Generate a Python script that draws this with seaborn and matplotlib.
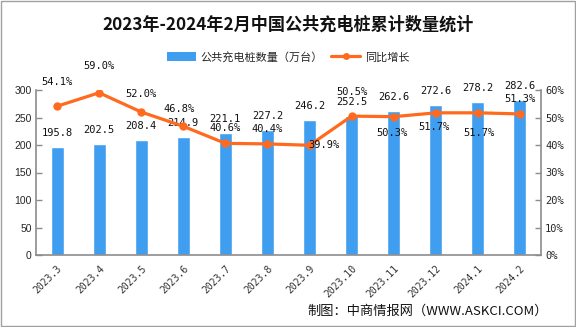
import numpy as np
import pandas as pd
import matplotlib
matplotlib.use("Agg")
import matplotlib.pyplot as plt
import seaborn as sns
from matplotlib.ticker import FuncFormatter
from matplotlib.lines import Line2D
from matplotlib.patches import Patch, Rectangle

months = ["2023.3", "2023.4", "2023.5", "2023.6", "2023.7", "2023.8",
          "2023.9", "2023.10", "2023.11", "2023.12", "2024.1", "2024.2"]
piles = [195.8, 202.5, 208.4, 214.9, 221.1, 227.2, 246.2, 252.5, 262.6, 272.6, 278.2, 282.6]
growth = [54.1, 59.0, 52.0, 46.8, 40.6, 40.4, 39.9, 50.5, 50.3, 51.7, 51.7, 51.3]

# label offsets (pixels) for growth labels
g_dx = [0, 0, 0, -4, 0, 0, 14, 0, -2, -2, 1, 0]
g_dy = [24, 27, 18, 17, 15, 15, 0, 24, -16, -14, -20, 15]

sns.set_theme(style="white")
plt.rcParams['font.family'] = ['Noto Sans CJK SC', 'DejaVu Sans']

BLUE = "#409EF0"
ORANGE = "#FF6A1F"
GRAY = "#8C8C8C"

fig = plt.figure(figsize=(5.76, 3.27), dpi=100)
ax = fig.add_axes([36/576, 1-255/327, (541-36)/576, (255-90)/327])

df = pd.DataFrame({"month": months, "piles": piles, "growth": growth})
sns.barplot(data=df, x="month", y="piles", ax=ax, color=BLUE, width=0.31,
            saturation=1, order=months)
ax.set_xlim(-0.5, len(months) - 0.5)
ax.set_ylim(0, 300)
ax.set_yticks(range(0, 301, 50))
ax.set_xlabel("")
ax.set_ylabel("")

for p, v in zip(ax.patches, piles):
    ax.annotate(f"{v:.1f}", (p.get_x() + p.get_width()/2, p.get_height()),
                xytext=(0, 14), textcoords="offset pixels", ha="center", va="center",
                fontsize=7.5, family="DejaVu Sans Mono", color="#111111")

ax2 = ax.twinx()
pos = np.arange(len(months))
sns.lineplot(x=pos, y=growth, ax=ax2, color=ORANGE, linewidth=2.3,
             marker="o", markersize=6, markeredgewidth=0, legend=False)
ax2.set_ylim(0, 60)
ax2.set_yticks(range(0, 61, 10))
ax2.yaxis.set_major_formatter(FuncFormatter(lambda v, _: f"{v:.0f}%"))
ax2.set_ylabel("")

for x, v, dx, dy in zip(pos, growth, g_dx, g_dy):
    ax2.annotate(f"{v:.1f}%", (x, v), xytext=(dx, dy), textcoords="offset pixels",
                 ha="center", va="center", fontsize=7.5, family="DejaVu Sans Mono",
                 color="#111111")

# axes styling
for a in (ax, ax2):
    for s in a.spines.values():
        s.set_visible(False)
ax.spines["left"].set_visible(True)
ax.spines["bottom"].set_visible(True)
ax2.spines["right"].set_visible(True)
for s in (ax.spines["left"], ax.spines["bottom"], ax2.spines["right"]):
    s.set_color(GRAY)
    s.set_linewidth(1.2)

ax.set_xticks(np.arange(len(months)))
ax.set_xticklabels(months, rotation=45, ha="right", rotation_mode="anchor",
                   fontsize=7, family="DejaVu Sans Mono", color="#333333")
ax.tick_params(axis="x", length=0, pad=6)
ax.set_xticks(np.arange(len(months)) + 0.5, minor=True)
ax.tick_params(axis="x", which="minor", direction="in", length=4, color=GRAY, width=1)
ax.tick_params(axis="y", direction="in", length=4, color=GRAY, width=1, pad=3,
               labelsize=7.5, left=True)
for t in ax.get_yticklabels():
    t.set_family("Liberation Sans")
ax2.tick_params(axis="y", direction="in", length=4, color=GRAY, width=1, pad=3,
                labelsize=7.5, right=True)
for t in ax2.get_yticklabels():
    t.set_family("DejaVu Sans Mono")

fig.text(0.5, 0.924, "2023年-2024年2月中国公共充电桩累计数量统计", ha="center", va="center",
         fontsize=12.3, fontweight="bold", color="#111111")

handles = [Patch(facecolor=BLUE, edgecolor="none"),
           Line2D([0], [0], color=ORANGE, lw=2.3, marker="o", markersize=5, markeredgewidth=0)]
fig.legend(handles, ["公共充电桩数量（万台）", "同比增长"], loc="center",
           bbox_to_anchor=(0.5, 0.826), ncol=2, frameon=False, fontsize=8,
           handlelength=2.6, handleheight=0.8, columnspacing=0.8, handletextpad=0.4)

fig.text(0.951, 0.049, "制图：中商情报网（WWW.ASKCI.COM）", ha="right", va="center",
         fontsize=9.5, color="#111111")

fig.patches.append(Rectangle((0.002, 0.003), 0.996, 0.994, transform=fig.transFigure,
                             fill=False, edgecolor="#A0A0A0", linewidth=1))

fig.savefig("out.png", dpi=100)
